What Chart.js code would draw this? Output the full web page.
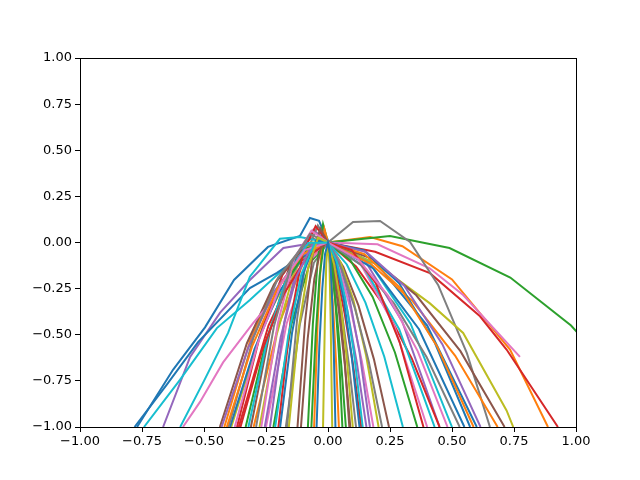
<!DOCTYPE html>
<html>
<head>
<meta charset="utf-8">
<script src="https://cdn.jsdelivr.net/npm/chart.js@4"></script>
<style>
  body { margin: 0; background: #fff; }
  #wrap { width: 640px; height: 480px; }
</style>
</head>
<body>
<div id="wrap"><canvas id="fan" width="640" height="480"></canvas></div>
<script>
// matplotlib default colour cycle
const palette = ['#1f77b4', '#ff7f0e', '#2ca02c', '#d62728', '#9467bd',
                 '#8c564b', '#e377c2', '#7f7f7f', '#bcbd22', '#17becf'];

const tickValues = [-1, -0.75, -0.5, -0.25, 0, 0.25, 0.5, 0.75, 1];

// one x list and one y list per curve, in plotting order
const curveX = [
  [-0.77, -0.625, -0.496, -0.379, -0.242, -0.113, -0.073, -0.036, 0, 0.2, 0.4, 0.6],
  [-0.30, -0.2, -0.1, 0, 0.17, 0.3, 0.5, 0.734, 0.887],
  [-0.22, -0.147, -0.073, 0, 0.25, 0.49, 0.735, 0.98, 1.22],
  [-0.36, -0.24, -0.12, 0, 0.19, 0.411, 0.613, 0.72, 0.927],
  [-0.665, -0.556, -0.435, -0.315, -0.18, -0.09, 0, 0.15, 0.3, 0.45],
  [-0.311, -0.233, -0.156, -0.078, 0, 0.062, 0.123, 0.185, 0.246],
  [-0.25, -0.167, -0.083, 0, 0.2, 0.41, 0.545, 0.774],
  [-0.17, -0.113, -0.057, 0, 0.101, 0.21, 0.331, 0.444, 0.56, 0.653],
  [-0.39, -0.26, -0.13, 0, 0.2, 0.411, 0.545, 0.72, 0.747],
  [-0.742, -0.597, -0.448, -0.315, -0.2, -0.1, 0, 0.167, 0.333, 0.5],
  [-0.78, -0.65, -0.524, -0.315, -0.206, -0.1, 0, 0.183, 0.367, 0.55],
  [-0.418, -0.314, -0.209, -0.105, 0, 0.171, 0.342, 0.513, 0.684],
  [-0.081, -0.061, -0.041, -0.020, 0, 0.018, 0.036, 0.054, 0.072],
  [-0.367, -0.275, -0.184, -0.092, 0, 0.113, 0.225, 0.338, 0.450],
  [-0.234, -0.176, -0.117, -0.059, 0, 0.039, 0.078, 0.116, 0.155],
  [-0.436, -0.327, -0.218, -0.109, 0, 0.178, 0.356, 0.534, 0.712],
  [-0.585, -0.516, -0.423, -0.302, -0.153, -0.07, 0, 0.133, 0.267, 0.4],
  [-0.165, -0.124, -0.083, -0.041, 0, 0.028, 0.057, 0.085, 0.113],
  [-0.276, -0.207, -0.138, -0.069, 0, 0.051, 0.102, 0.153, 0.204],
  [-0.596, -0.5, -0.403, -0.315, -0.194, -0.113, 0, 0.143, 0.287, 0.43],
  [-0.395, -0.296, -0.198, -0.099, 0, 0.143, 0.287, 0.430, 0.573],
  [-0.056, -0.042, -0.028, -0.014, 0, 0.011, 0.022, 0.033, 0.044],
  [-0.332, -0.249, -0.166, -0.083, 0, 0.090, 0.180, 0.270, 0.360],
  [-0.200, -0.150, -0.100, -0.050, 0, 0.034, 0.067, 0.101, 0.134],
  [-0.429, -0.322, -0.215, -0.107, 0, 0.154, 0.308, 0.461, 0.615],
  [-0.123, -0.092, -0.062, -0.031, 0, 0.023, 0.045, 0.068, 0.090],
  [-0.269, -0.202, -0.135, -0.067, 0, 0.046, 0.092, 0.137, 0.183],
  [-0.401, -0.301, -0.201, -0.100, 0, 0.133, 0.266, 0.398, 0.531],
  [-0.020, -0.013, -0.007, 0, 0.006, 0.011, 0.017],
  [-0.321, -0.241, -0.161, -0.080, 0, 0.076, 0.151, 0.227, 0.302],
  [-0.193, -0.145, -0.097, -0.048, 0, 0.032, 0.064, 0.095, 0.127],
  [-0.408, -0.306, -0.204, -0.102, 0, 0.147, 0.294, 0.440, 0.587],
  [-0.067, -0.050, -0.034, -0.017, 0, 0.015, 0.029, 0.044, 0.058],
  [-0.353, -0.265, -0.177, -0.088, 0, 0.096, 0.193, 0.289, 0.385],
  [-0.255, -0.191, -0.128, -0.064, 0, 0.042, 0.085, 0.127, 0.169],
  [-0.109, -0.082, -0.055, -0.027, 0, 0.022, 0.043, 0.065, 0.086],
  [-0.376, -0.282, -0.188, -0.094, 0, 0.121, 0.241, 0.362, 0.482],
  [-0.290, -0.218, -0.145, -0.073, 0, 0.055, 0.109, 0.164, 0.218],
  [-0.158, -0.119, -0.079, -0.040, 0, 0.025, 0.050, 0.075, 0.100],
  [-0.213, -0.160, -0.107, -0.053, 0, 0.035, 0.070, 0.105, 0.140],
  [-0.046, -0.035, -0.023, -0.012, 0, 0.008, 0.015, 0.023, 0.030]
];

const curveY = [
  [-1, -0.69, -0.46, -0.203, -0.024, 0.035, 0.133, 0.117, 0, -0.12, -0.45, -1],
  [-1, -0.45, -0.11, 0, 0.03, -0.02, -0.2, -0.58, -1],
  [-1, -0.44, -0.11, 0, 0.035, -0.03, -0.19, -0.45, -0.8],
  [-1, -0.45, -0.11, 0, -0.05, -0.166, -0.40, -0.58, -1],
  [-1, -0.62, -0.38, -0.203, -0.03, -0.01, 0, -0.1, -0.43, -1],
  [-1, -0.475, -0.133, 0.025, 0, -0.132, -0.342, -0.632, -1],
  [-1, -0.44, -0.11, 0, -0.01, -0.14, -0.285, -0.62],
  [-1, -0.44, -0.11, 0, 0.111, 0.117, 0.003, -0.23, -0.6, -1],
  [-1, -0.44, -0.11, 0, -0.12, -0.33, -0.49, -0.91, -1],
  [-1, -0.745, -0.464, -0.312, -0.17, -0.06, 0, -0.11, -0.44, -1],
  [-1, -0.77, -0.54, -0.247, -0.165, -0.07, 0, -0.14, -0.47, -1],
  [-1, -0.531, -0.208, -0.031, 0, -0.114, -0.319, -0.614, -1],
  [-1, -0.441, -0.088, 0.10, 0, -0.170, -0.394, -0.671, -1],
  [-1, -0.507, -0.177, -0.007, 0, -0.130, -0.340, -0.630, -1],
  [-1, -0.431, -0.075, 0.069, 0, -0.150, -0.366, -0.650, -1],
  [-1, -0.546, -0.228, -0.046, 0, -0.089, -0.286, -0.589, -1],
  [-1, -0.864, -0.65, -0.437, -0.2, -0.07, 0, -0.12, -0.45, -1],
  [-1, -0.408, -0.044, 0.092, 0, -0.168, -0.391, -0.668, -1],
  [-1, -0.500, -0.167, 0.000, 0, -0.108, -0.311, -0.608, -1],
  [-1, -0.75, -0.49, -0.185, 0.02, 0.03, 0, -0.13, -0.47, -1],
  [-1, -0.577, -0.270, -0.077, 0, -0.041, -0.221, -0.541, -1],
  [-1, -0.436, -0.082, 0.07, 0, -0.162, -0.382, -0.661, -1],
  [-1, -0.531, -0.209, -0.031, 0, -0.096, -0.295, -0.596, -1],
  [-1, -0.413, -0.050, 0.088, 0, -0.163, -0.384, -0.663, -1],
  [-1, -0.571, -0.261, -0.071, 0, -0.051, -0.235, -0.551, -1],
  [-1, -0.424, -0.066, 0.076, 0, -0.164, -0.385, -0.664, -1],
  [-1, -0.436, -0.082, 0.064, 0, -0.148, -0.365, -0.648, -1],
  [-1, -0.517, -0.190, -0.017, 0, -0.122, -0.330, -0.622, -1],
  [-1, -0.444, -0.111, 0, -0.111, -0.444, -1],
  [-1, -0.502, -0.170, -0.002, 0, -0.119, -0.326, -0.619, -1],
  [-1, -0.490, -0.154, 0.010, 0, -0.110, -0.314, -0.610, -1],
  [-1, -0.563, -0.250, -0.063, 0, -0.063, -0.250, -0.563, -1],
  [-1, -0.512, -0.183, -0.012, 0, -0.106, -0.308, -0.606, -1],
  [-1, -0.582, -0.277, -0.082, 0, -0.041, -0.221, -0.541, -1],
  [-1, -0.515, -0.186, -0.015, 0, -0.094, -0.292, -0.594, -1],
  [-1, -0.522, -0.196, -0.022, 0, -0.095, -0.293, -0.595, -1],
  [-1, -0.541, -0.222, -0.041, 0, -0.090, -0.286, -0.590, -1],
  [-1, -0.454, -0.105, 0.046, 0, -0.144, -0.359, -0.644, -1],
  [-1, -0.474, -0.132, 0.026, 0, -0.119, -0.325, -0.619, -1],
  [-1, -0.503, -0.170, -0.002, 0, -0.102, -0.303, -0.602, -1],
  [-1, -0.563, -0.250, -0.063, 0, -0.063, -0.250, -0.563, -1]
];

let datasets = curveX.map((xs, i) => ({
  data: xs.map((x, j) => ({ x: x, y: curveY[i][j] })),
  borderColor: palette[i % palette.length],
  borderWidth: 2,
  pointRadius: 0,
  tension: 0,
  fill: false,
  order: curveX.length - i   // later curves on top, like matplotlib
}));

// black frame round the plot area
const frame = {
  id: 'frame',
  afterDraw(chart) {
    const a = chart.chartArea;
    const ctx = chart.ctx;
    ctx.save();
    ctx.strokeStyle = '#000';
    ctx.lineWidth = 1;
    ctx.strokeRect(Math.round(a.left) + 0.5, Math.round(a.top) + 0.5,
                   Math.round(a.right - a.left), Math.round(a.bottom - a.top));
    ctx.restore();
  }
};

const fmt = v => v.toFixed(2).replace('-', '\u2212');

Chart.defaults.font.family = "'DejaVu Sans', sans-serif";
Chart.defaults.font.size = 13;
Chart.defaults.color = '#000';

let fanChart = new Chart(document.getElementById('fan'), {
  type: 'line',
  data: { datasets: datasets },
  options: {
    responsive: false,
    animation: false,
    events: [],
    layout: { padding: { left: 0, right: 64, top: 58, bottom: 0 } },
    plugins: { legend: { display: false }, tooltip: { enabled: false } },
    scales: {
      x: {
        type: 'linear',
        min: -1, max: 1,
        afterBuildTicks: s => { s.ticks = tickValues.map(v => ({ value: v })); },
        afterFit: s => { s.height = 53; },
        ticks: { callback: fmt, maxRotation: 0, autoSkip: false, padding: 2 },
        grid: { drawOnChartArea: false, drawTicks: true, tickLength: 5, color: '#000' },
        border: { display: false }
      },
      y: {
        type: 'linear',
        min: -1, max: 1,
        afterBuildTicks: s => { s.ticks = tickValues.map(v => ({ value: v })); },
        afterFit: s => { s.width = 80; },
        ticks: { callback: fmt, autoSkip: false, padding: 3 },
        grid: { drawOnChartArea: false, drawTicks: true, tickLength: 5, color: '#000' },
        border: { display: false }
      }
    }
  },
  plugins: [frame]
});
</script>
</body>
</html>
